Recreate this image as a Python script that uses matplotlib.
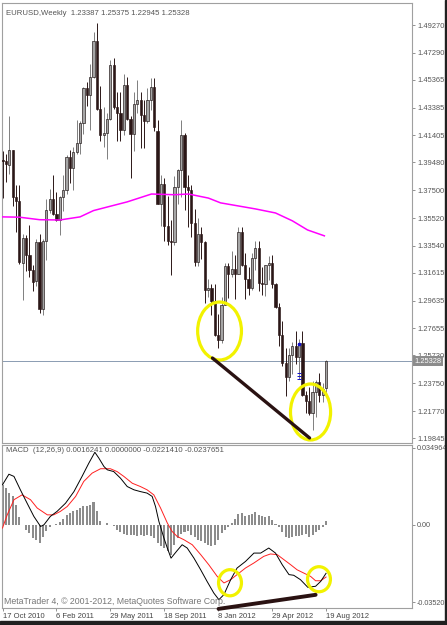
import matplotlib

matplotlib.use("Agg")

import matplotlib.pyplot as plt
from matplotlib.patches import Ellipse, Rectangle

# weekly EURUSD bars, 17 Oct 2010 .. 19 Aug 2012
opens = [1.3965, 1.3955, 1.3930, 1.4036, 1.3700, 1.3670, 1.3230, 1.3410, 1.3290, 1.3185,
         1.3100, 1.3380, 1.2905, 1.3385, 1.3610, 1.3690, 1.3580, 1.3540, 1.3700, 1.3750,
         1.3985, 1.3905, 1.4020, 1.4090, 1.4230, 1.4480, 1.4430, 1.4560, 1.4810, 1.4330,
         1.4140, 1.4160, 1.4260, 1.4640, 1.4345, 1.4300, 1.4180, 1.4500, 1.4260, 1.4150,
         1.4365, 1.4395, 1.4285, 1.4245, 1.4390, 1.4485, 1.4170, 1.3655, 1.3795, 1.3495,
         1.3390, 1.3380, 1.3770, 1.3895, 1.4145, 1.3775, 1.3755, 1.3520, 1.3240, 1.3440,
         1.3380, 1.3040, 1.3050, 1.2960, 1.2720, 1.2680, 1.2935, 1.3210, 1.3155, 1.3190,
         1.3150, 1.3450, 1.3220, 1.3120, 1.3050, 1.3270, 1.3340, 1.3090, 1.3080, 1.3215,
         1.3235, 1.3080, 1.2920, 1.2718, 1.2516, 1.2420, 1.2575, 1.2640, 1.2565, 1.2660,
         1.2290, 1.2250, 1.2160, 1.2310, 1.2387, 1.2290, 1.23387]
highs = [1.4030, 1.4010, 1.4282, 1.4040, 1.3788, 1.3787, 1.3440, 1.3430, 1.3500, 1.3220,
         1.3400, 1.3440, 1.3400, 1.3685, 1.3760, 1.3862, 1.3735, 1.3710, 1.3860, 1.4000,
         1.4035, 1.4060, 1.4250, 1.4245, 1.4485, 1.4520, 1.4650, 1.4880, 1.4940, 1.4490,
         1.4340, 1.4300, 1.4680, 1.4695, 1.4450, 1.4450, 1.4580, 1.4560, 1.4280, 1.4450,
         1.4535, 1.4450, 1.4390, 1.4480, 1.4550, 1.4550, 1.4248, 1.3860, 1.3840, 1.3710,
         1.3540, 1.3850, 1.3900, 1.4247, 1.4160, 1.3860, 1.3790, 1.3615, 1.3550, 1.3490,
         1.3390, 1.3120, 1.3080, 1.3080, 1.2870, 1.2990, 1.3235, 1.3230, 1.3320, 1.3290,
         1.3486, 1.3485, 1.3300, 1.3200, 1.3300, 1.3385, 1.3390, 1.3200, 1.3220, 1.3280,
         1.3285, 1.3090, 1.2950, 1.2820, 1.2625, 1.2625, 1.2670, 1.2750, 1.2690, 1.2750,
         1.2320, 1.2345, 1.2390, 1.2400, 1.2445, 1.2375, 1.25375]
lows = [1.3697, 1.3812, 1.3863, 1.3640, 1.3450, 1.3224, 1.2968, 1.3171, 1.3130, 1.3035,
        1.3070, 1.2874, 1.2861, 1.3250, 1.3585, 1.3570, 1.3530, 1.3430, 1.3600, 1.3720,
        1.3800, 1.3750, 1.4010, 1.4010, 1.4150, 1.4350, 1.4180, 1.4550, 1.4320, 1.4100,
        1.4055, 1.3970, 1.4250, 1.4330, 1.4100, 1.4100, 1.4145, 1.4250, 1.3838, 1.4030,
        1.4300, 1.4050, 1.4050, 1.4230, 1.4320, 1.4170, 1.3654, 1.3495, 1.3385, 1.3360,
        1.3146, 1.3360, 1.3650, 1.3700, 1.3610, 1.3485, 1.3420, 1.3210, 1.3210, 1.3260,
        1.2945, 1.2990, 1.2858, 1.2710, 1.2624, 1.2660, 1.2930, 1.2980, 1.3130, 1.2975,
        1.3150, 1.3210, 1.2975, 1.3000, 1.3040, 1.3180, 1.3030, 1.3005, 1.2995, 1.3110,
        1.3050, 1.2910, 1.2640, 1.2495, 1.2285, 1.2390, 1.2440, 1.2515, 1.2405, 1.2285,
        1.2160, 1.2145, 1.2042, 1.2135, 1.2240, 1.2240, 1.22945]
closes = [1.3960, 1.3940, 1.4036, 1.3700, 1.3670, 1.3240, 1.3410, 1.3290, 1.3185, 1.3095,
          1.3380, 1.2905, 1.3385, 1.3610, 1.3690, 1.3580, 1.3540, 1.3700, 1.3750, 1.3985,
          1.3905, 1.4020, 1.4090, 1.4230, 1.4480, 1.4430, 1.4560, 1.4810, 1.4330, 1.4140,
          1.4160, 1.4260, 1.4640, 1.4345, 1.4300, 1.4180, 1.4500, 1.4260, 1.4150, 1.4365,
          1.4395, 1.4285, 1.4245, 1.4390, 1.4485, 1.4200, 1.3655, 1.3795, 1.3495, 1.3390,
          1.3380, 1.3770, 1.3895, 1.4145, 1.3775, 1.3755, 1.3520, 1.3240, 1.3440, 1.3380,
          1.3040, 1.3050, 1.2960, 1.2720, 1.2680, 1.2935, 1.3210, 1.3155, 1.3190, 1.3150,
          1.3450, 1.3220, 1.3120, 1.3050, 1.3270, 1.3340, 1.3090, 1.3080, 1.3215, 1.3235,
          1.3080, 1.2920, 1.2718, 1.2516, 1.2420, 1.2575, 1.2640, 1.2565, 1.2660, 1.2290,
          1.2250, 1.2160, 1.2310, 1.2387, 1.2290, 1.2335, 1.25328]

# long moving average (magenta), read at bar positions
ma_idx = [0, 5, 11, 17, 23, 27, 31.5, 37, 44.2, 51, 55.2, 61.1, 64.7, 75, 81, 86, 90.5, 95.5]
ma_val = [1.3560, 1.3558, 1.3540, 1.3538, 1.3560, 1.3605, 1.3633, 1.3667, 1.3723, 1.3718,
          1.3723, 1.3694, 1.3660, 1.3617, 1.3588, 1.3532, 1.3467, 1.3425]

# MACD main line (black) and signal line (red)
macd_idx = [0, 1.9, 3.4, 5.3, 7.3, 9.3, 11.3, 12.3, 14.2, 16.2,
            18.7, 21.2, 23.6, 25.6, 27.4, 28.6, 30.1, 31.1, 33.0, 35.0,
            37.0, 39.0, 40.9, 42.9, 44.4, 45.4, 46.4, 47.9, 48.9, 50.0,
            51.8, 53.3, 54.8, 56.8, 58.8, 60.7, 62.7, 64.2, 65.7, 67.7,
            69.6, 72.1, 74.6, 76.6, 79.0, 81.0, 83.0, 85.0, 86.4, 88.4,
            90.6, 92.9, 94.4, 96]
macd_val = [0.0182, 0.0230, 0.0220, 0.0159, 0.0098, 0.0038, -0.0008, 0.0000, 0.0038, 0.0061,
            0.0098, 0.0151, 0.0220, 0.0280, 0.0330, 0.0303, 0.0265, 0.0250, 0.0242, 0.0212,
            0.0174, 0.0159, 0.0151, 0.0144, 0.0129, 0.0083, 0.0015, -0.0061, -0.0106, -0.0152,
            -0.0118, -0.0091, -0.0106, -0.0152, -0.0205, -0.0258, -0.0311, -0.0341, -0.0318, -0.0250,
            -0.0197, -0.0167, -0.0129, -0.0129, -0.0106, -0.0129, -0.0182, -0.0227, -0.0230, -0.0250,
            -0.0285, -0.0280, -0.0258, -0.0221]
sig_idx = [0, 1.4, 3.4, 5.8, 8.3, 10.3, 13.3, 15.2, 17.2, 19.2,
           21.7, 24.1, 26.6, 29.1, 32.0, 34.0, 36.0, 38.5, 40.9, 42.9,
           44.9, 46.9, 48.9, 50.3, 51.8, 53.8, 56.3, 58.8, 61.2, 63.7,
           65.7, 67.7, 69.6, 72.1, 74.6, 77.5, 79.5, 81.5, 83.5, 85.5,
           87.4, 89.4, 91.4, 92.9, 94.4, 96]
sig_val = [-0.0015, 0.0045, 0.0114, 0.0136, 0.0114, 0.0076, 0.0045, 0.0045, 0.0061, 0.0083,
           0.0129, 0.0197, 0.0235, 0.0255, 0.0255, 0.0242, 0.0220, 0.0189, 0.0174, 0.0159,
           0.0136, 0.0076, 0.0008, -0.0030, -0.0053, -0.0068, -0.0091, -0.0136, -0.0182, -0.0235,
           -0.0265, -0.0250, -0.0227, -0.0197, -0.0174, -0.0144, -0.0133, -0.0136, -0.0159, -0.0182,
           -0.0205, -0.0220, -0.0235, -0.0255, -0.0255, -0.0238]
hist = [0.0179, 0.0167, 0.0144, 0.0129, 0.0091, 0.0033, 0.0000, -0.0023, -0.0038, -0.0061,
        -0.0068, -0.0083, -0.0058, -0.0030, -0.0012, -0.0003, 0.0003, 0.0012, 0.0027, 0.0045,
        0.0053, 0.0061, 0.0068, 0.0076, 0.0086, 0.0086, 0.0088, 0.0103, 0.0061, 0.0015,
        0.0000, 0.0006, 0.0000, -0.0006, -0.0023, -0.0033, -0.0042, -0.0045, -0.0048, -0.0048,
        -0.0050, -0.0048, -0.0052, -0.0048, -0.0053, -0.0061, -0.0083, -0.0098, -0.0106, -0.0121,
        -0.0136, -0.0091, -0.0061, -0.0042, -0.0033, -0.0030, -0.0048, -0.0058, -0.0068, -0.0076,
        -0.0085, -0.0091, -0.0098, -0.0094, -0.0068, -0.0038, -0.0023, -0.0008, 0.0008, 0.0027,
        0.0048, 0.0053, 0.0042, 0.0045, 0.0050, 0.0058, 0.0045, 0.0038, 0.0033, 0.0038,
        0.0023, 0.0003, -0.0008, -0.0033, -0.0058, -0.0061, -0.0058, -0.0053, -0.0053, -0.0045,
        -0.0042, -0.0058, -0.0045, -0.0033, -0.0023, -0.0008, 0.0016]

price_ticks = ["1.49270", "1.47290", "1.45365", "1.43385", "1.41405", "1.39480", "1.37500",
               "1.35520", "1.33540", "1.31615", "1.29635", "1.27655", "1.25730", "1.23750",
               "1.21770", "1.19845"]
macd_ticks = ["0.034964", "0.00", "-0.03520"]
date_idx = [0, 16, 32, 48, 64, 80, 96]
date_labels = ["17 Oct 2010", "6 Feb 2011", "29 May 2011", "18 Sep 2011",
               "8 Jan 2012", "29 Apr 2012", "19 Aug 2012"]
last_price = 1.25328

# hand-drawn marks: (bar, value, width in bars, height in value)
price_circles = [(64.4, 1.2747, 13.0, 0.0413), (91.4, 1.2170, 11.9, 0.0399)]
price_trend = ([62.3, 91.1], [1.2554, 1.1985])
macd_circles = [(67.5, -0.0264, 6.8, 0.0119), (93.9, -0.0248, 6.8, 0.0114)]
macd_trend = ([64.1, 92.9], [-0.0383, -0.0319])
blue_dot = (88, 1.2655)
blue_dash = [1.2445, 1.2425, 1.2405]

FONT = "Liberation Sans"
GREY = "#a0a0a0"
TXT = "#555555"
BULL = "#a6a6a6"
BEAR = "#2b1717"
YELLOW = "#f2f200"
TREND = "#2a1212"

W, H = 447, 625
fig = plt.figure(figsize=(W / 100, H / 100), dpi=100)
fig.patch.set_facecolor("white")
plt.rcParams["font.family"] = [FONT, "DejaVu Sans"]

XLIM = (-0.15, 121.5)

ax = fig.add_axes([2 / W, 1 - 443 / H, 410 / W, 440 / H])
ax.set_xlim(*XLIM)
ax.set_ylim(1.1949, 1.5084)

idx = list(range(len(closes)))
up = [c >= o for o, c in zip(opens, closes)]
ax.vlines(idx, lows, highs, colors=["#7e7e7e" if u else BEAR for u in up], linewidth=0.7, zorder=2)
bottoms = [min(o, c) for o, c in zip(opens, closes)]
heights = [max(abs(c - o), 0.0004) for o, c in zip(opens, closes)]
ax.bar(idx, heights, bottom=bottoms, width=0.66,
       color=[BULL if u else BEAR for u in up],
       edgecolor=["#1a1010" if u else BEAR for u in up], linewidth=0.45, zorder=3)

ax.plot(ma_idx, ma_val, color="#ff00ff", linewidth=1.1, zorder=4)
ax.axhline(last_price, color="#8a9bb2", linewidth=0.7, zorder=1)

ax.plot([blue_dot[0]], [blue_dot[1]], marker="o", markersize=1.6, color="#1010d0", zorder=5)
ax.plot([blue_dot[0]] * len(blue_dash), blue_dash, linestyle="none", marker="_",
        markersize=3, markeredgewidth=0.7, color="#1010d0", zorder=5)

for cx, cy, w, h in price_circles:
    ax.add_patch(Ellipse((cx, cy), w, h, fill=False, edgecolor=YELLOW, linewidth=2.3, zorder=6))
ax.plot(*price_trend, color=TREND, linewidth=2.4, solid_capstyle="round", zorder=6)

for s in ax.spines.values():
    s.set_color(GREY)
    s.set_linewidth(0.8)
ax.set_xticks([])
ax.yaxis.tick_right()
ax.set_yticks([float(t) for t in price_ticks])
ax.set_yticklabels(price_ticks)
ax.tick_params(axis="y", direction="out", length=2.5, width=0.6, color="#808080",
               labelsize=5.4, labelcolor=TXT, pad=1.5)
ax.text(0.01, 0.985, "EURUSD,Weekly  1.23387 1.25375 1.22945 1.25328", transform=ax.transAxes,
        ha="left", va="top", fontsize=5.6, color=TXT)
ax.text(1.006, last_price, f"{last_price:.5f}", transform=ax.get_yaxis_transform(),
        ha="left", va="center", fontsize=5.4, color="white", zorder=10, clip_on=False,
        bbox=dict(boxstyle="square,pad=0.18", fc="#8c8c8c", ec="none"))

# MACD panel
ax2 = fig.add_axes([2 / W, 1 - 608 / H, 410 / W, 163 / H])
ax2.set_xlim(*XLIM)
ax2.set_ylim(-0.0379, 0.0363)
ax2.bar(idx, hist, width=0.6, color="#8c8c8c", linewidth=0, zorder=2)
ax2.plot(sig_idx, sig_val, color="#ff2020", linewidth=0.7, zorder=3)
ax2.plot(macd_idx, macd_val, color="black", linewidth=0.7, zorder=4)
for cx, cy, w, h in macd_circles:
    ax2.add_patch(Ellipse((cx, cy), w, h, fill=False, edgecolor=YELLOW, linewidth=2.3, zorder=6))
ax2.plot(*macd_trend, color=TREND, linewidth=2.8, solid_capstyle="round", zorder=7, clip_on=False)

for s in ax2.spines.values():
    s.set_color(GREY)
    s.set_linewidth(0.8)
ax2.yaxis.tick_right()
ax2.set_yticks([float(t) for t in macd_ticks])
ax2.set_yticklabels(macd_ticks)
ax2.tick_params(axis="y", direction="out", length=2.5, width=0.6, color="#808080",
                labelsize=5.2, labelcolor=TXT, pad=1.2)
ax2.set_xticks(date_idx)
ax2.set_xticklabels(date_labels)
ax2.tick_params(axis="x", direction="out", length=2.5, width=0.6, color="#808080",
                labelsize=5.5, labelcolor="#444444", pad=1)
for lab in ax2.get_xticklabels():
    lab.set_horizontalalignment("left")
ax2.text(0.01, 0.985, "MACD  (12,26,9) 0.0016241 0.0000000 -0.0221410 -0.0237651",
         transform=ax2.transAxes, ha="left", va="top", fontsize=5.6, color=TXT)
ax2.text(0.005, 0.01, "MetaTrader 4, \u00a9 2001-2012, MetaQuotes Software Corp.",
         transform=ax2.transAxes, ha="left", va="bottom", fontsize=6.3, color="#777777", zorder=5)

# window frame
fig.add_artist(Rectangle((0, 0), 1, 4 / H, transform=fig.transFigure, color="#202020"))
fig.add_artist(Rectangle((445 / W, 0), 2 / W, 1, transform=fig.transFigure, color="#202020"))

fig.savefig("out.png", dpi=100)
